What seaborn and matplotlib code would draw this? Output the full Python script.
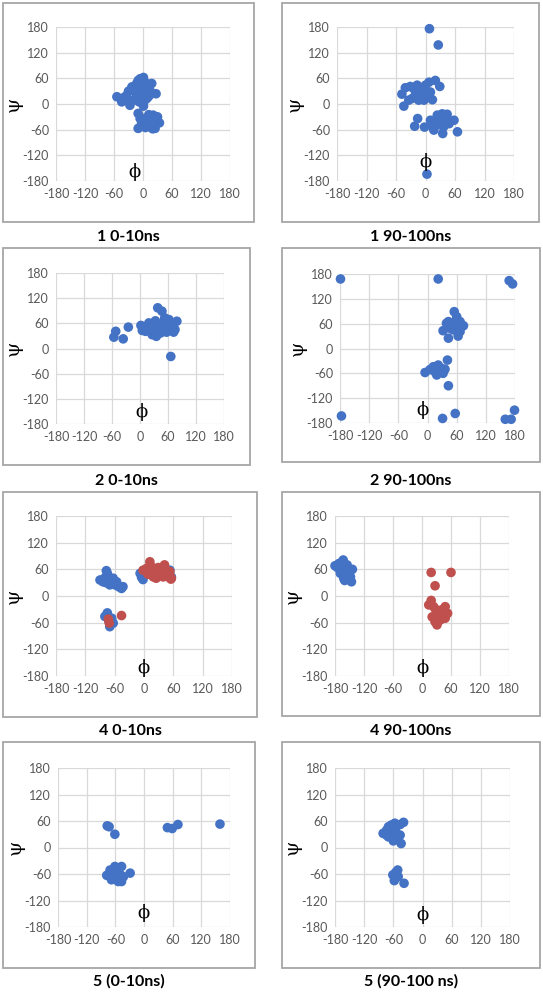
import matplotlib
matplotlib.use("Agg")
import matplotlib.pyplot as plt
from matplotlib.patches import Rectangle
import seaborn as sns
import pandas as pd

sns.set_theme(style="white")
plt.rcParams['font.family'] = ['Lato', 'DejaVu Sans']

BLUE = "#4472C4"
RED = "#C0504D"

titles = ["1 0-10ns", "1 90-100ns", "2 0-10ns", "2 90-100ns",
          "4 0-10ns", "4 90-100ns", "5 (0-10ns)", "5 (90-100 ns)"]
ticks = [-180, -120, -60, 0, 60, 120, 180]
tick_labels = ["-180", "-120", "-60", "0", "60", "120", "180"]

# ---- data (phi, psi) ----
p1_blue_phi = [-54, -44, -34, -27, -20, -13, -6, 1, 8, 18, 27, 11, -6, -20, 4, -37, -23, -13, 1, 8,
               -10, 5, 12, -16, -3, 15, -30, -40, -8, 15,
               1, -10, -10, -3, 8, 14, 21, 28, 34, 25, 11, 1, -6, 18, 5, 20, 30, 12, 0]
p1_blue_psi = [17, 5, 20, -3, 32, 48, 59, 62, 44, 48, 24, 17, 24, 9, 9, 9, 40, 17, 32, 13,
               55, 50, 38, 28, 40, 30, 30, 15, 5, 22,
               -5, -22, -57, -46, -34, -53, -26, -42, -44, -57, -46, -34, -34, -38, -55, -58, -30, -25, -48]

p2_blue_phi = [8, 26, 3, 65,
               -48, -44, -41, -31, -27, -20, -14, -7, 0, 7, 20, 29, 14, 10, -3, -10, -34, -24, 3, -17,
               -16, -22, -2, 10, 17, 20, 27, 34, 41, 44, 35, 58, 31, 24, 48, 14, 37]
p2_blue_psi = [176, 138, -164, -65,
               23, -5, 38, 41, 13, 24, 9, 32, 44, 51, 55, 41, 10, 28, 9, 20, 9, 36, 24, 44,
               -34, -52, -54, -38, -61, -46, -30, -23, -38, -24, -69, -38, -49, -26, -46, -53, -53]

p3_blue_phi = [-56, -52, -36, -25, 66, 38, 47, 79, 75, 72,
               2, 5, 15, 23, 29, 33, 36, 35, 44, 50, 53, 58, 62, 57, 44, 26, 12, 65, 62, 19]
p3_blue_psi = [27, 41, 23, 51, -19, 97, 89, 65, 45, 39,
               55, 43, 53, 45, 57, 66, 37, 29, 51, 62, 73, 57, 45, 39, 37, 33, 41, 61, 69, 61]

p4_blue_phi = [-179, -177, 22, 168, 175, 179, 160, 172, 31, 57,
               55, 60, 43, 50, 57, 63, 74, 67, 63, 43, 32, 53, 46, 60, 67, 39,
               41, -5, 5, 12, 15, 22, 25, 32, 34, 29, 19, 43, 22, 36]
p4_blue_psi = [168, -163, 168, 164, 156, -149, -171, -171, -169, -157,
               89, 77, 65, 57, 65, 53, 55, 41, 30, 25, 43, 45, 49, 61, 65, 61,
               -28, -58, -51, -44, -56, -40, -52, -60, -52, -48, -64, -90, -46, -50]

p5_blue_phi = [-90, -77, -84, -73, -66, -63, -59, -52, -46, -43, -70, -81, -56, -75, -78, -68,
               -8, -5, -2, 53, 56, 39, 25,
               -80, -75, -70, -63, -66, -72]
p5_blue_psi = [36, 57, 32, 43, 29, 40, 25, 21, 17, 21, 25, 40, 32, 51, 30, 35,
               51, 42, 37, 58, 43, 47, 55,
               -46, -38, -69, -61, -50, -56]
p5_red_phi = [-2, 12, 15, 22, 25, 29, 39, 46, 42, 53, 56, 5, 19, 36, 29, 49, 8, 55, 33, 20, 45,
              -46, -73, -71]
p5_red_psi = [58, 77, 66, 55, 40, 49, 43, 58, 70, 55, 40, 62, 43, 60, 64, 43, 49, 38, 52, 48, 50,
              -44, -52, -61]

p6_blue_phi = [-180, -172, -165, -162, -155, -151, -148, -146, -162, -169, -155, -163, -144, -175,
               -168, -158, -152, -160]
p6_blue_psi = [68, 73, 77, 62, 70, 58, 43, 32, 40, 51, 47, 81, 60, 64,
               60, 55, 48, 35]
p6_red_phi = [19, 60, 27, 19, 14, 24, 21, 27, 31, 34, 41, 48, 53, 48, 38, 31, 45, 34, 40, 28]
p6_red_psi = [53, 53, 23, -10, -20, -24, -47, -58, -65, -39, -31, -24, -39, -50, -54, -35, -43, -50, -40, -30]

p7_blue_phi = [-77, -73, -61, 49, 59, 71, 159, -29,
               -78, -71, -68, -61, -54, -47, -47, -49, -64, -57, -54, -71, -61, -43, -66, -58, -52]
p7_blue_psi = [49, 47, 30, 45, 43, 52, 53, -58,
               -63, -51, -73, -43, -77, -43, -77, -62, -62, -58, -51, -66, -69, -66, -55, -70, -60]

p8_blue_phi = [-81, -74, -70, -64, -57, -46, -39, -44, -60, -70, -64, -55, -46, -60, -74, -52, -66,
               -61, -58, -51, -50, -55, -57, -38]
p8_blue_psi = [32, 39, 47, 51, 55, 52, 57, 9, 15, 24, 32, 36, 28, 43, 28, 20, 38,
               -62, -75, -51, -66, -56, -69, -81]

panels = [
    [(p1_blue_phi, p1_blue_psi, BLUE)],
    [(p2_blue_phi, p2_blue_psi, BLUE)],
    [(p3_blue_phi, p3_blue_psi, BLUE)],
    [(p4_blue_phi, p4_blue_psi, BLUE)],
    [(p5_blue_phi, p5_blue_psi, BLUE), (p5_red_phi, p5_red_psi, RED)],
    [(p6_blue_phi, p6_blue_psi, BLUE), (p6_red_phi, p6_red_psi, RED)],
    [(p7_blue_phi, p7_blue_psi, BLUE)],
    [(p8_blue_phi, p8_blue_psi, BLUE)],
]

# ---- layout (pixels) ----
W, H = 543, 992
axes_px = [(56, 27, 230, 181), (337, 27, 514, 181),
           (56, 273, 224, 424), (340, 274, 515, 423),
           (56, 516, 232, 676), (335, 516, 509, 676),
           (58, 768, 230, 927), (335, 768, 510, 927)]
box_px = [(3, 3, 254, 222), (282, 3, 539, 222),
          (3, 248, 250, 465), (282, 248, 540, 462),
          (3, 492, 257, 717), (282, 492, 540, 716),
          (3, 742, 255, 968), (282, 742, 540, 968)]
title_y = [237, 237, 481, 481, 731, 731, 981, 981]
phi_pos = [(-18, -158), (0, -135), (3, -152), (-11, -148),
           (0, -163), (1, -163), (0, -148), (0, -152)]

fig = plt.figure(figsize=(W / 100, H / 100), dpi=100)
fig.patch.set_facecolor("white")

for i in range(8):
    l, t, r, b = box_px[i]
    fig.patches.append(Rectangle((l / W, 1 - b / H), (r - l) / W, (b - t) / H,
                                 transform=fig.transFigure, fill=False,
                                 edgecolor="#a6a6a6", linewidth=1.3, zorder=0))
    fig.text(((l + r) / 2) / W, 1 - title_y[i] / H, titles[i], ha="center", va="center",
             fontsize=11.5, fontweight="bold", color="black")

    al, at, ar, ab = axes_px[i]
    ax = fig.add_axes([al / W, 1 - ab / H, (ar - al) / W, (ab - at) / H])
    frames = []
    for phi, psi, col in panels[i]:
        frames.append(pd.DataFrame({"phi": phi, "psi": psi, "c": col}))
    df = pd.concat(frames, ignore_index=True)
    sns.scatterplot(data=df, x="phi", y="psi", hue="c",
                    palette={BLUE: BLUE, RED: RED}, s=48, linewidth=0,
                    legend=False, ax=ax, zorder=3, clip_on=False)
    ax.set_xlim(-180, 180)
    ax.set_ylim(-180, 180)
    ax.set_xticks(ticks)
    ax.set_yticks(ticks)
    ax.set_xticklabels(tick_labels)
    ax.set_yticklabels(tick_labels)
    ax.tick_params(axis="both", length=0, labelsize=9, labelcolor="#595959", pad=5)
    ax.grid(True, color="#d9d9d9", linewidth=0.9)
    ax.set_axisbelow(True)
    for s in ax.spines.values():
        s.set_visible(False)
    ax.set_xlabel("")
    ax.set_ylabel("ψ", fontsize=14, color="black", labelpad=0,
                  family=["DejaVu Serif", "DejaVu Sans"])
    ax.text(phi_pos[i][0], phi_pos[i][1], "ϕ", ha="center", va="center",
            fontsize=13, color="black", family=["DejaVu Serif", "DejaVu Sans"], zorder=4)

fig.savefig("out.png", dpi=100, facecolor="white")
